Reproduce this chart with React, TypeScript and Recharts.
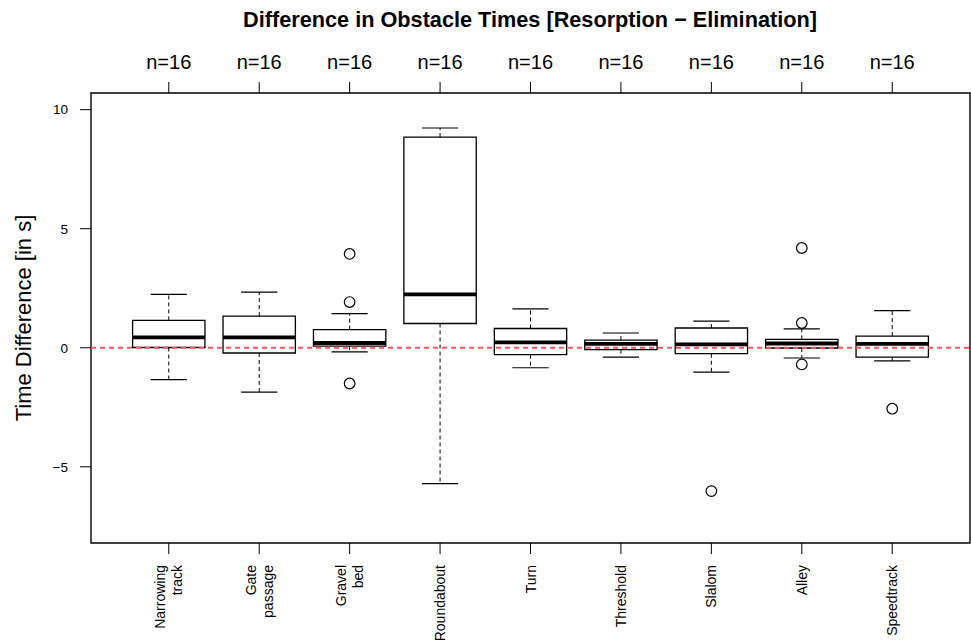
import React from 'react'
import {
  ComposedChart,
  XAxis,
  YAxis,
  Scatter,
  ReferenceArea,
  ReferenceLine,
} from 'recharts'

// obstacles, in plotting order
const categories = [
  'Narrowing\ntrack',
  'Gate\npassage',
  'Gravel\nbed',
  'Roundabout',
  'Turn',
  'Threshold',
  'Slalom',
  'Alley',
  'Speedtrack',
]
const counts = [16, 16, 16, 16, 16, 16, 16, 16, 16]

// five-number summaries (seconds)
const lowWhisker  = [-1.34, -1.86, -0.17, -5.71, -0.84, -0.39, -1.02, -0.43, -0.55]
const lowerQ      = [0.01, -0.22, 0.07, 1.02, -0.29, -0.08, -0.25, -0.01, -0.39]
const medians     = [0.44, 0.44, 0.2, 2.24, 0.23, 0.16, 0.14, 0.18, 0.16]
const upperQ      = [1.15, 1.33, 0.76, 8.85, 0.81, 0.32, 0.83, 0.35, 0.49]
const highWhisker = [2.24, 2.34, 1.43, 9.23, 1.63, 0.62, 1.12, 0.79, 1.56]

const outlierBox   = [3, 3, 3, 7, 8, 8, 8, 9]
const outlierValue = [3.94, 1.92, -1.5, -6.02, 4.19, 1.04, -0.7, -2.56]

const yTicks = [-5, 0, 5, 10]

const XMIN = 0.14
const XMAX = 9.86
const YMIN = -8.2
const YMAX = 10.7

const W = 971
const H = 644
const FONT = '"Liberation Sans", Arial, Helvetica, sans-serif'

const positions = categories.map((_, i) => i + 1)
const outliers = outlierBox.map((b, i) => ({ x: b, y: outlierValue[i] }))

function BottomTick(props: any) {
  const { x, y, payload } = props
  const lines = categories[payload.value - 1].split('\n')
  const lh = 17
  const base = 5 - ((lines.length - 1) * lh) / 2
  return (
    <g transform={`translate(${x},${y})`}>
      <text transform="rotate(-90)" textAnchor="end" fontSize={14} fill="#000">
        {lines.map((l, i) => (
          <tspan key={i} x={0} y={base + i * lh}>{l}</tspan>
        ))}
      </text>
    </g>
  )
}

export default function App() {
  return (
    <div style={{ position: 'absolute', left: 0, top: 0, width: W, height: H, fontFamily: FONT, background: '#fff' }}>
      <ComposedChart width={W} height={H} margin={{ top: 0, right: 1, bottom: 0, left: 0 }}>
        <XAxis
          type="number"
          dataKey="x"
          domain={[XMIN, XMAX]}
          ticks={positions}
          interval={0}
          allowDataOverflow
          height={101}
          axisLine={false}
          stroke="#000"
          tickSize={11}
          tickMargin={11}
          tick={<BottomTick />}
        />
        <XAxis
          xAxisId="top"
          orientation="top"
          type="number"
          dataKey="x"
          domain={[XMIN, XMAX]}
          ticks={positions}
          interval={0}
          allowDataOverflow
          height={93}
          axisLine={false}
          stroke="#000"
          tickSize={11}
          tickMargin={13}
          tick={{ fill: '#000', fontSize: 20 }}
          tickFormatter={(v: number) => `n=${counts[v - 1]}`}
        />
        <YAxis
          type="number"
          dataKey="y"
          domain={[YMIN, YMAX]}
          ticks={yTicks}
          interval={0}
          allowDataOverflow
          width={91}
          axisLine={false}
          stroke="#000"
          tickSize={11}
          tickMargin={12}
          tick={{ fill: '#000', fontSize: 13.5 }}
          tickFormatter={(v: number) => (v < 0 ? `\u2212${-v}` : `${v}`)}
        />

        {/* plot frame */}
        <ReferenceArea x1={XMIN} x2={XMAX} y1={YMIN} y2={YMAX} fill="none" stroke="#000" strokeWidth={1.4} ifOverflow="visible" />

        {positions.map((p, i) => (
          <React.Fragment key={p}>
            <ReferenceArea x1={p - 0.4} x2={p + 0.4} y1={lowerQ[i]} y2={upperQ[i]} fill="none" stroke="#000" strokeWidth={1.3} ifOverflow="visible" />
            <ReferenceLine segment={[{ x: p, y: upperQ[i] }, { x: p, y: highWhisker[i] }]} stroke="#000" strokeDasharray="4 3" ifOverflow="visible" />
            <ReferenceLine segment={[{ x: p, y: lowerQ[i] }, { x: p, y: lowWhisker[i] }]} stroke="#000" strokeDasharray="4 3" ifOverflow="visible" />
            <ReferenceLine segment={[{ x: p - 0.2, y: highWhisker[i] }, { x: p + 0.2, y: highWhisker[i] }]} stroke="#000" strokeWidth={1.2} ifOverflow="visible" />
            <ReferenceLine segment={[{ x: p - 0.2, y: lowWhisker[i] }, { x: p + 0.2, y: lowWhisker[i] }]} stroke="#000" strokeWidth={1.2} ifOverflow="visible" />
            <ReferenceLine segment={[{ x: p - 0.4, y: medians[i] }, { x: p + 0.4, y: medians[i] }]} stroke="#000" strokeWidth={3.8} ifOverflow="visible" />
          </React.Fragment>
        ))}

        <Scatter
          data={outliers}
          isAnimationActive={false}
          shape={(s: any) => <circle cx={s.cx} cy={s.cy} r={5.3} fill="none" stroke="#000" strokeWidth={1.2} />}
        />
        {/* same points bound to the top axis so that it draws its n= labels */}
        <Scatter
          xAxisId="top"
          data={outliers}
          isAnimationActive={false}
          shape={() => <g />}
        />

        <ReferenceLine y={0} stroke="#ff5555" strokeWidth={1.8} strokeDasharray="5 4" ifOverflow="visible" />
      </ComposedChart>

      <svg width={W} height={H} style={{ position: 'absolute', left: 0, top: 0, pointerEvents: 'none' }}>
        <text x={530} y={27} textAnchor="middle" fontSize={21.7} fontWeight="bold" fill="#000">
          Difference in Obstacle Times [Resorption − Elimination]
        </text>
        <text transform="translate(31,318) rotate(-90)" textAnchor="middle" fontSize={22} fill="#000">
          Time Difference [in s]
        </text>
      </svg>
    </div>
  )
}
